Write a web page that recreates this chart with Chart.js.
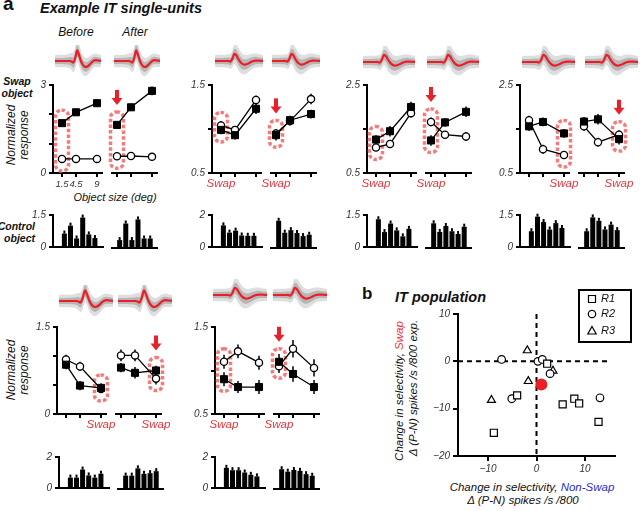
<!DOCTYPE html>
<html>
<head>
<meta charset="utf-8">
<script src="https://cdn.jsdelivr.net/npm/chart.js@4.4.1/dist/chart.umd.min.js"></script>
<style>
  body { margin: 0; width: 640px; height: 511px; position: relative; overflow: hidden; background: #fff;
         font-family: "Liberation Sans", Arial, sans-serif; color: #111; }
  canvas { position: absolute; }
  .c, .l, .v, .r { position: absolute; line-height: 1; white-space: nowrap; }
  .c { transform: translate(-50%, -50%); text-align: center; }
  .l { transform: translate(0, -50%); }
  .r { transform: translate(-100%, -50%); text-align: right; }
  .v { transform: translate(-50%, -50%) rotate(-90deg); text-align: center; }
</style>
</head>
<body>
<div class="l" style="left:3px;top:4px;font:bold 19px 'Liberation Sans'">a</div>
<div class="l" style="left:40px;top:8px;font:italic bold 14.5px 'Liberation Sans'">Example IT single-units</div>
<div class="c" style="left:76px;top:32px;font:italic 12px 'Liberation Sans'">Before</div>
<div class="c" style="left:135px;top:32px;font:italic 12px 'Liberation Sans'">After</div>
<div class="c" style="left:17px;top:87px;font:italic bold 10.5px 'Liberation Sans';line-height:12px">Swap<br>object</div>
<div class="v" style="left:18px;top:135px;font:italic 12px 'Liberation Sans';line-height:13px">Normalized<br>response</div>
<div class="v" style="left:18px;top:370px;font:italic 12px 'Liberation Sans';line-height:13px">Normalized<br>response</div>
<div class="c" style="left:115px;top:197px;font:italic 11px 'Liberation Sans'">Object size (deg)</div>
<div class="r" style="left:35px;top:232px;font:italic bold 10.5px 'Liberation Sans';line-height:12px">Control<br>object</div>
<div class="l" style="left:362px;top:294px;font:bold 17px 'Liberation Sans'">b</div>
<div class="l" style="left:395px;top:297px;font:italic bold 14.5px 'Liberation Sans'">IT population</div>
<div class="c" style="left:532px;top:487px;font:italic 11.5px 'Liberation Sans'">Change in selectivity, <span style="color:#2d2dcc">Non-Swap</span></div>
<div class="c" style="left:523px;top:500px;font:italic 11.5px 'Liberation Sans'">Δ (P-N) spikes /s /800</div>
<div class="v" style="left:399px;top:391px;font:italic 11.5px 'Liberation Sans'">Change in selectivity, <span style="color:#e8333a">Swap</span></div>
<div class="v" style="left:413px;top:388px;font:italic 11.5px 'Liberation Sans'">Δ (P-N) spikes /s /800 exp.</div>

<script>
// object sizes (deg)
const sizes = [1.5, 4.5, 9];

// unit 1
const u1SqPre = [1.70, 2.07, 2.38];
const u1CiPre = [0.48, 0.48, 0.48];
const u1SqPost = [1.64, 2.24, 2.80];
const u1CiPost = [0.57, 0.58, 0.55];
const u1Err = [0.1, 0.08, 0.1, 0.03, 0.03, 0.03, 0.1, 0.12, 0.15, 0.03, 0.03, 0.03];
const u1BarPre = [0.63, 1.0, 0.4, 1.38, 0.59, 0.42];
const u1BarPost = [0.35, 1.08, 0.35, 1.26, 0.42, 0.42];

// unit 2
const u2SqPre = [0.99, 0.93, 1.23];
const u2CiPre = [1.04, 0.99, 1.33];
const u2SqPost = [0.93, 1.10, 1.17];
const u2CiPost = [0.95, 1.09, 1.34];
const u2Err = [0.05, 0.05, 0.06, 0.05, 0.04, 0.05, 0.06, 0.05, 0.05, 0.05, 0.05, 0.06];
const u2BarPre = [1.35, 0.9, 1.02, 0.72, 0.7, 0.7];
const u2BarPost = [1.6, 0.9, 1.05, 0.88, 0.7, 0.78];

// unit 3
const u3SqPre = [1.26, 1.45, 2.0];
const u3CiPre = [1.08, 1.16, 1.86];
const u3SqPost = [1.24, 1.65, 1.89];
const u3CiPost = [1.66, 1.37, 1.33];
const u3Err = [0.1, 0.12, 0.12, 0.08, 0.08, 0.1, 0.12, 0.1, 0.12, 0.1, 0.08, 0.1];
const u3BarPre = [1.3, 0.7, 1.1, 0.78, 0.5, 0.85];
const u3BarPost = [1.09, 0.71, 0.97, 0.74, 0.62, 0.94];

// unit 4
const u4SqPre = [1.56, 1.66, 1.40];
const u4CiPre = [1.70, 1.04, 0.91];
const u4SqPost = [1.67, 1.72, 1.27];
const u4CiPost = [1.56, 1.20, 1.37];
const u4Err = [0.1, 0.1, 0.1, 0.1, 0.1, 0.08, 0.1, 0.12, 0.12, 0.1, 0.1, 0.1];
const u4BarPre = [0.74, 1.42, 1.17, 0.82, 1.12, 0.89];
const u4BarPost = [0.74, 1.35, 1.2, 0.82, 1.03, 0.79];

// unit 5
const u5SqPre = [0.85, 0.49, 0.45];
const u5CiPre = [0.94, 0.82, 0.43];
const u5SqPost = [0.80, 0.71, 0.75];
const u5CiPost = [1.01, 1.01, 0.61];
const u5Err = [0.08, 0.08, 0.08, 0.08, 0.08, 0.06, 0.08, 0.1, 0.08, 0.1, 0.1, 0.1];
const u5BarPre = [0.67, 0.67, 1.19, 0.81, 0.67, 0.92];
const u5BarPost = [0.81, 0.81, 1.25, 0.92, 0.96, 1.08];

// unit 6
const u6SqPre = [0.90, 0.81, 0.81];
const u6CiPre = [1.10, 1.22, 1.09];
const u6SqPost = [1.10, 0.96, 0.81];
const u6CiPost = [1.05, 1.25, 1.03];
const u6Err = [0.08, 0.07, 0.08, 0.08, 0.08, 0.08, 0.09, 0.09, 0.08, 0.08, 0.1, 0.1];
const u6BarPre = [1.3, 1.15, 1.15, 1.0, 0.85, 0.75];
const u6BarPost = [1.2, 1.05, 1.15, 1.1, 0.9, 0.8];

// spike waveforms (mean trace + spread of traces)
const waveSharp = [0, 0, 0, 0, 0, 0, 0, 0, 0, -0.05, -0.15, 0.3, 1.05, 0.65, 0.05, -0.35, -0.55, -0.6, -0.5, -0.32, -0.12, 0.02, 0.08, 0.06, 0.03, 0.02];
const waveBlunt = [0, 0, 0, 0, 0, 0, 0, 0, -0.05, 0.2, 0.7, 0.6, 0.25, -0.05, -0.25, -0.35, -0.35, -0.28, -0.18, -0.08, 0, 0.04, 0.04, 0.03, 0.02, 0.01];
const spreadOuter = [0.6, 0.6, 0.62, 0.62, 0.62, 0.62, 0.65, 0.68, 0.75, 0.85, 1.0, 1.1, 1.15, 1.1, 1.05, 1.0, 0.95, 0.9, 0.85, 0.8, 0.75, 0.7, 0.68, 0.65, 0.62, 0.6];
const spreadInner = [0.3, 0.3, 0.3, 0.3, 0.3, 0.32, 0.32, 0.34, 0.38, 0.45, 0.52, 0.58, 0.6, 0.58, 0.55, 0.52, 0.5, 0.48, 0.45, 0.42, 0.4, 0.38, 0.35, 0.33, 0.32, 0.3];

// population scatter
const r1X = [-4.0, 2.2, 5.4, 7.8, 8.8, 12.8, -8.8];
const r1Y = [-7.2, -0.5, -9.1, -7.9, -8.9, -12.8, -15.1];
const r2X = [-7.2, 0.3, 1.2, 2.8, -5.1, 13.1];
const r2Y = [0.4, 0.0, 0.4, -2.6, -7.9, -7.7];
const r3X = [-1.9, -9.3, -1.7, 3.4];
const r3Y = [2.3, -8.2, -4.2, -2.0];
const meanX = [1.0];
const meanY = [-4.9];

Chart.defaults.font.family = '"Liberation Sans", Arial, sans-serif';
Chart.defaults.animation = false;
Chart.defaults.responsive = false;
Chart.defaults.devicePixelRatio = 1;
Chart.defaults.plugins.legend.display = false;
Chart.defaults.plugins.tooltip.enabled = false;

const tickFont = { size: 10, style: 'italic' };
const axisGrid = { drawOnChartArea: false, drawTicks: true, tickLength: 4, color: '#000', lineWidth: 2 };
const axisBorder = { color: '#000', width: 2 };
const RED = '#ee1c25';

const units = [
  { x0: 53, top: 85, bot: 173, min: 0, max: 3, ticks: [0, 1, 2, 3], labels: [0, 3],
    sqPre: u1SqPre, ciPre: u1CiPre, sqPost: u1SqPost, ciPost: u1CiPost, err: u1Err, swap: 0, swapText: false, sizeLabels: true,
    barX0: 53, barTop: 214, barBot: 248, barMax: 1.5, barPre: u1BarPre, barPost: u1BarPost,
    wave: waveSharp, waveY: 61, waveX: [55, 114], waveW: 46 },
  { x0: 212, top: 85, bot: 173, min: 0.5, max: 1.5, ticks: [0.5, 1, 1.5], labels: [0.5, 1.5],
    sqPre: u2SqPre, ciPre: u2CiPre, sqPost: u2SqPost, ciPost: u2CiPost, err: u2Err, swap: 0, swapText: true,
    barX0: 212, barTop: 214, barBot: 248, barMax: 2, barPre: u2BarPre, barPost: u2BarPost,
    wave: waveBlunt, waveY: 61, waveX: [215, 272], waveW: 48 },
  { x0: 367, top: 85, bot: 173, min: 0.5, max: 2.5, ticks: [0.5, 1.5, 2.5], labels: [0.5, 2.5],
    sqPre: u3SqPre, ciPre: u3CiPre, sqPost: u3SqPost, ciPost: u3CiPost, err: u3Err, swap: 0, swapText: true,
    barX0: 367, barTop: 214, barBot: 248, barMax: 1.5, barPre: u3BarPre, barPost: u3BarPost,
    wave: waveBlunt, waveY: 62, waveX: [363, 427], waveW: 52 },
  { x0: 520, top: 85, bot: 173, min: 0.5, max: 2.5, ticks: [0.5, 1.5, 2.5], labels: [0.5, 2.5],
    sqPre: u4SqPre, ciPre: u4CiPre, sqPost: u4SqPost, ciPost: u4CiPost, err: u4Err, swap: 2, swapText: true,
    barX0: 520, barTop: 214, barBot: 248, barMax: 1.5, barPre: u4BarPre, barPost: u4BarPost,
    wave: waveBlunt, waveY: 62, waveX: [522, 585], waveW: 53 },
  { x0: 57, top: 327, bot: 414, min: 0, max: 1.5, ticks: [0, 0.5, 1, 1.5], labels: [0, 1.5],
    sqPre: u5SqPre, ciPre: u5CiPre, sqPost: u5SqPost, ciPost: u5CiPost, err: u5Err, swap: 2, swapText: true,
    barX0: 59, barTop: 456, barBot: 489, barMax: 2, barPre: u5BarPre, barPost: u5BarPost,
    wave: waveSharp, waveY: 301, waveX: [59, 118], waveW: 54 },
  { x0: 215, top: 327, bot: 414, min: 0.5, max: 1.5, ticks: [0.5, 1, 1.5], labels: [0.5, 1.5],
    sqPre: u6SqPre, ciPre: u6CiPre, sqPost: u6SqPost, ciPost: u6CiPost, err: u6Err, swap: 0, swapText: true,
    barX0: 215, barTop: 456, barBot: 489, barMax: 2, barPre: u6BarPre, barPost: u6BarPost,
    wave: waveBlunt, waveY: 295, waveX: [213, 273], waveW: 54 }
];

function addCanvas(left, top, w, h) {
  const c = document.createElement('canvas');
  c.width = w;
  c.height = h;
  c.style.left = left + 'px';
  c.style.top = top + 'px';
  c.style.width = w + 'px';
  c.style.height = h + 'px';
  document.body.appendChild(c);
  return c;
}

// vertical error bars, and the little caps on top of the bars
const errorBars = {
  id: 'errorBars',
  beforeDatasetsDraw(chart) {
    const ctx = chart.ctx, xs = chart.scales.x, ys = chart.scales.y;
    chart.data.datasets.forEach(ds => {
      if (!ds.errs) return;
      ctx.save();
      ctx.strokeStyle = '#000';
      ctx.lineWidth = 1.5;
      ds.data.forEach((p, i) => {
        const px = xs.getPixelForValue(p.x);
        ctx.beginPath();
        ctx.moveTo(px, ys.getPixelForValue(p.y - ds.errs[i]));
        ctx.lineTo(px, ys.getPixelForValue(p.y + ds.errs[i]));
        ctx.stroke();
      });
      ctx.restore();
    });
  },
  afterDatasetsDraw(chart) {
    const ctx = chart.ctx;
    chart.data.datasets.forEach((ds, di) => {
      if (!ds.nub) return;
      ctx.save();
      ctx.strokeStyle = '#000';
      ctx.lineWidth = 2;
      chart.getDatasetMeta(di).data.forEach(bar => {
        ctx.beginPath();
        ctx.moveTo(bar.x, bar.y);
        ctx.lineTo(bar.x, bar.y - 3);
        ctx.stroke();
      });
      ctx.restore();
    });
  }
};

// dotted red outline round the swap size, the arrow and the "Swap" label
const swapMarks = {
  id: 'swapMarks',
  beforeDatasetsDraw(chart, args, opts) {
    if (opts.swap == null) return;
    const ctx = chart.ctx, xs = chart.scales.x, ys = chart.scales.y;
    const px = xs.getPixelForValue(sizes[opts.swap]);
    const pys = chart.data.datasets.map(ds => ys.getPixelForValue(ds.data[opts.swap].y));
    const top = Math.min(...pys) - 13;
    const bot = Math.max(...pys) + 12;
    ctx.save();
    ctx.strokeStyle = '#f47b7b';
    ctx.lineWidth = 3.5;
    ctx.setLineDash([3.5, 2.2]);
    ctx.beginPath();
    ctx.roundRect(px - 6.5, top, 13, bot - top, 6);
    ctx.stroke();
    ctx.setLineDash([]);
    if (opts.arrow) {
      const tip = top - 7;
      ctx.fillStyle = '#e8202a';
      ctx.fillRect(px - 2, tip - 15, 4, 9);
      ctx.beginPath();
      ctx.moveTo(px - 5.5, tip - 7);
      ctx.lineTo(px + 5.5, tip - 7);
      ctx.lineTo(px, tip);
      ctx.closePath();
      ctx.fill();
    }
    ctx.restore();
  },
  afterDraw(chart, args, opts) {
    if (!opts.label) return;
    const ctx = chart.ctx;
    const px = chart.scales.x.getPixelForValue(sizes[opts.swap]);
    ctx.save();
    ctx.font = 'italic 11.5px "Liberation Sans"';
    ctx.fillStyle = '#e8333a';
    ctx.textAlign = 'center';
    ctx.textBaseline = 'middle';
    ctx.fillText('Swap', px, chart.chartArea.bottom + 11);
    ctx.restore();
  }
};

function lineChart(u, post) {
  const yW = post ? 0 : 26;
  const padL = post ? 10 : 0;
  const padR = 14, padT = 10, xH = 24;
  const areaL = post ? u.x0 + 59 : u.x0;
  const areaW = post ? 45 : 49;
  const sq = post ? u.sqPost : u.sqPre;
  const ci = post ? u.ciPost : u.ciPre;
  const e = post ? u.err.slice(6, 12) : u.err.slice(0, 6);
  const cv = addCanvas(areaL - yW - padL, u.top - padT, padL + yW + areaW + padR, padT + (u.bot - u.top) + xH);
  new Chart(cv, {
    type: 'line',
    data: {
      datasets: [
        { data: sizes.map((x, i) => ({ x: x, y: sq[i] })), errs: e.slice(0, 3),
          borderColor: '#000', borderWidth: 1.3, pointStyle: 'rect', pointRadius: 5,
          pointBackgroundColor: '#000', pointBorderColor: '#000', pointBorderWidth: 1, clip: false },
        { data: sizes.map((x, i) => ({ x: x, y: ci[i] })), errs: e.slice(3),
          borderColor: '#000', borderWidth: 1.3, pointStyle: 'circle', pointRadius: 3.6,
          pointBackgroundColor: '#fff', pointBorderColor: '#000', pointBorderWidth: 1.3, clip: false }
      ]
    },
    options: {
      layout: { padding: { left: padL, right: padR, top: padT, bottom: 0 } },
      scales: {
        x: {
          type: 'linear', min: post ? 0.43 : -0.43, max: 10.07,
          afterBuildTicks: s => { s.ticks = sizes.map(v => ({ value: v })); },
          afterFit: s => { s.height = xH; },
          ticks: { callback: v => (u.sizeLabels && !post) ? String(v) : '', font: { size: 9.5, style: 'italic' }, color: '#333', padding: 2, autoSkip: false, maxRotation: 0 },
          grid: axisGrid, border: axisBorder
        },
        y: {
          display: !post, min: u.min, max: u.max,
          afterBuildTicks: s => { s.ticks = u.ticks.map(v => ({ value: v })); },
          afterFit: s => { s.width = yW; },
          ticks: { callback: v => u.labels.includes(v) ? String(v) : '', font: tickFont, color: '#333', padding: 3, autoSkip: false },
          grid: axisGrid, border: axisBorder
        }
      },
      plugins: { swapMarks: { swap: u.swap, arrow: post, label: u.swapText } }
    },
    plugins: [swapMarks, errorBars]
  });
}

function barChart(u, post) {
  const yW = post ? 0 : 22;
  const padL = post ? 2 : 0;
  const padR = 4, padT = 8, padB = 4, xH = 4;
  const areaL = post ? u.barX0 + 59 : u.barX0;
  const areaW = post ? 45 : 50;
  const vals = post ? u.barPost : u.barPre;
  const cv = addCanvas(areaL - yW - padL, u.barTop - padT, padL + yW + areaW + padR, padT + (u.barBot - u.barTop) + xH + padB);
  new Chart(cv, {
    type: 'bar',
    data: {
      datasets: [{ data: vals.map((v, i) => ({ x: i + 1, y: v })), backgroundColor: '#000',
                   barPercentage: 0.82, categoryPercentage: 1, nub: true }]
    },
    options: {
      layout: { padding: { left: padL, right: padR, top: padT, bottom: padB } },
      scales: {
        x: {
          type: 'linear', min: post ? 0.36 : -0.18, max: post ? 6.5 : 6.64,
          afterBuildTicks: s => { s.ticks = vals.map((v, i) => ({ value: i + 1 })); },
          afterFit: s => { s.height = xH; },
          ticks: { display: false }, grid: { display: false }, border: axisBorder
        },
        y: {
          display: !post, min: 0, max: u.barMax,
          afterBuildTicks: s => { s.ticks = [{ value: 0 }, { value: u.barMax }]; },
          afterFit: s => { s.width = yW; },
          ticks: { font: tickFont, color: '#333', padding: 3 },
          grid: axisGrid, border: axisBorder
        }
      }
    },
    plugins: [errorBars]
  });
}

function waveChart(left, cy, w, wave) {
  const cv = addCanvas(left, cy - 16, w, 32);
  const pts = arr => arr.map((v, i) => ({ x: i, y: v }));
  const band = { pointRadius: 0, borderWidth: 0, tension: 0.3 };
  new Chart(cv, {
    type: 'line',
    data: {
      datasets: [
        { data: pts(wave), borderColor: RED, borderWidth: 2.2, pointRadius: 0, tension: 0.3, fill: false, order: 0 },
        Object.assign({ data: pts(wave.map((v, i) => v + spreadInner[i])), fill: '+1', backgroundColor: 'rgba(150,150,150,0.55)', order: 1 }, band),
        Object.assign({ data: pts(wave.map((v, i) => v - spreadInner[i])), fill: false, order: 1 }, band),
        Object.assign({ data: pts(wave.map((v, i) => v + spreadOuter[i])), fill: '+1', backgroundColor: 'rgba(200,200,200,0.6)', order: 2 }, band),
        Object.assign({ data: pts(wave.map((v, i) => v - spreadOuter[i])), fill: false, order: 2 }, band)
      ]
    },
    options: {
      layout: { padding: 0 },
      scales: {
        x: { type: 'linear', display: false, min: 0, max: wave.length - 1 },
        y: { display: false, min: -1.6, max: 1.6 }
      }
    }
  });
}

units.forEach(u => {
  waveChart(u.waveX[0], u.waveY, u.waveW, u.wave);
  waveChart(u.waveX[1], u.waveY, u.waveW, u.wave);
  lineChart(u, false);
  lineChart(u, true);
  barChart(u, false);
  barChart(u, true);
});

// population panel
const zeroLines = {
  id: 'zeroLines',
  beforeDatasetsDraw(chart) {
    const ctx = chart.ctx, a = chart.chartArea;
    const x0 = chart.scales.x.getPixelForValue(0);
    const y0 = chart.scales.y.getPixelForValue(0);
    ctx.save();
    ctx.strokeStyle = '#000';
    ctx.lineWidth = 2;
    ctx.setLineDash([5, 4]);
    ctx.beginPath();
    ctx.moveTo(x0, a.top);
    ctx.lineTo(x0, a.bottom);
    ctx.moveTo(a.left, y0);
    ctx.lineTo(a.right - 4, y0);
    ctx.stroke();
    ctx.restore();
  }
};

const legendBox = {
  id: 'legendBox',
  afterDraw(chart) {
    const ctx = chart.ctx;
    ctx.save();
    ctx.strokeStyle = '#000';
    ctx.lineWidth = 2;
    ctx.strokeRect(159, 5, 52, 52);
    ctx.lineWidth = 1.2;
    ctx.fillStyle = '#fff';
    const names = ['R1', 'R2', 'R3'];
    const rows = [14, 29, 46];
    // square
    ctx.beginPath(); ctx.rect(168.5, rows[0] - 3.5, 7, 7); ctx.fill(); ctx.stroke();
    // circle
    ctx.beginPath(); ctx.arc(172, rows[1], 3.7, 0, Math.PI * 2); ctx.fill(); ctx.stroke();
    // triangle
    ctx.beginPath(); ctx.moveTo(172, rows[2] - 4.5); ctx.lineTo(176.2, rows[2] + 3); ctx.lineTo(167.8, rows[2] + 3); ctx.closePath(); ctx.fill(); ctx.stroke();
    ctx.fillStyle = '#111';
    ctx.font = 'italic 11px "Liberation Sans"';
    ctx.textBaseline = 'middle';
    names.forEach((n, i) => ctx.fillText(n, 181, rows[i]));
    ctx.restore();
  }
};

const mk = { pointBackgroundColor: '#fff', pointBorderColor: '#000', pointBorderWidth: 1.2 };
const sc = addCanvas(420, 285, 220, 189);
new Chart(sc, {
  type: 'scatter',
  data: {
    datasets: [
      Object.assign({ data: r1X.map((x, i) => ({ x: x, y: r1Y[i] })), pointStyle: 'rect', pointRadius: 5 }, mk),
      Object.assign({ data: r2X.map((x, i) => ({ x: x, y: r2Y[i] })), pointStyle: 'circle', pointRadius: 3.8 }, mk),
      Object.assign({ data: r3X.map((x, i) => ({ x: x, y: r3Y[i] })), pointStyle: 'triangle', pointRadius: 4.6 }, mk),
      { data: meanX.map((x, i) => ({ x: x, y: meanY[i] })), pointRadius: 6, pointBackgroundColor: RED, pointBorderWidth: 0 }
    ]
  },
  options: {
    layout: { padding: { top: 29, right: 25, left: 0, bottom: 0 } },
    scales: {
      x: {
        type: 'linear', min: -16.2, max: 16.2,
        afterBuildTicks: s => { s.ticks = [-10, 0, 10].map(v => ({ value: v })); },
        afterFit: s => { s.height = 18; },
        ticks: { callback: v => String(v).replace('-', '\u2212'), font: tickFont, color: '#333', padding: 2 },
        grid: { drawOnChartArea: false, tickLength: 5, color: '#000', lineWidth: 2 },
        border: axisBorder
      },
      y: {
        min: -20, max: 10,
        afterBuildTicks: s => { s.ticks = [-20, -10, 0, 10].map(v => ({ value: v })); },
        afterFit: s => { s.width = 38; },
        ticks: { callback: v => String(v).replace('-', '\u2212'), font: tickFont, color: '#333', padding: 3 },
        grid: { drawOnChartArea: false, tickLength: 5, color: '#000', lineWidth: 2 },
        border: axisBorder
      }
    }
  },
  plugins: [zeroLines, legendBox]
});
</script>
</body>
</html>
